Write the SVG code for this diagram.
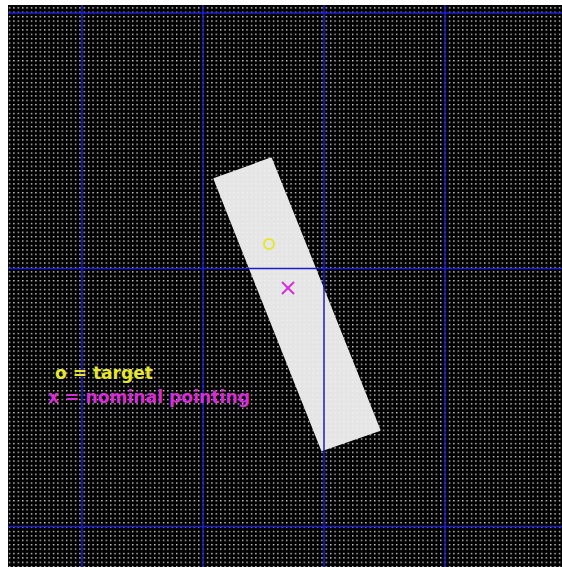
<svg xmlns="http://www.w3.org/2000/svg" width="562" height="567" viewBox="0 0 562 567">
  <style>
    .grid { stroke: #1a1ad0; stroke-width: 1.5; }
    .lbl { font-family: "DejaVu Sans", "Liberation Sans", sans-serif; font-weight: bold; font-size: 17px; }
  </style>
  <defs>
    <pattern id="dots" x="8.8" y="7.2" width="4.4" height="4.4" patternUnits="userSpaceOnUse">
      <rect width="1.4" height="1.4" fill="#d4d4d4"/>
    </pattern>
  </defs>
  <rect width="562" height="567" fill="#ffffff"/>
  <rect x="8" y="5" width="554" height="562" fill="#000000"/>
  <rect x="8" y="5" width="554" height="562" fill="url(#dots)"/>
  <g id="slit">
    <polygon points="214.5,179 271,158.5 379.5,430 322,450" fill="#f2f2f2" stroke="#f2f2f2" stroke-width="2" stroke-linejoin="round" opacity="0.95"/>
  </g>
  <g id="gridlines" class="grid">
    <line x1="8" y1="13" x2="562" y2="13"/>
    <line x1="8" y1="268.5" x2="562" y2="268.5"/>
    <line x1="8" y1="526.5" x2="562" y2="526.5"/>
    <line x1="82" y1="5" x2="82" y2="567"/>
    <line x1="203" y1="5" x2="203" y2="567"/>
    <line x1="324" y1="5" x2="324" y2="567"/>
    <line x1="445" y1="5" x2="445" y2="567"/>
  </g>
  <g id="target">
    <circle cx="269" cy="244" r="5" fill="none" stroke="#e6e62a" stroke-width="2"/>
  </g>
  <g id="nominal" stroke="#d82cd8" stroke-width="2">
    <line x1="282" y1="282" x2="294" y2="294"/>
    <line x1="282" y1="294" x2="294" y2="282"/>
  </g>
  <g id="legend">
    <text class="lbl" x="55" y="379" fill="#e6e62a" textLength="98" lengthAdjust="spacingAndGlyphs">o = target</text>
    <text class="lbl" x="48" y="403" fill="#d82cd8" textLength="202" lengthAdjust="spacingAndGlyphs">x = nominal pointing</text>
  </g>
</svg>
